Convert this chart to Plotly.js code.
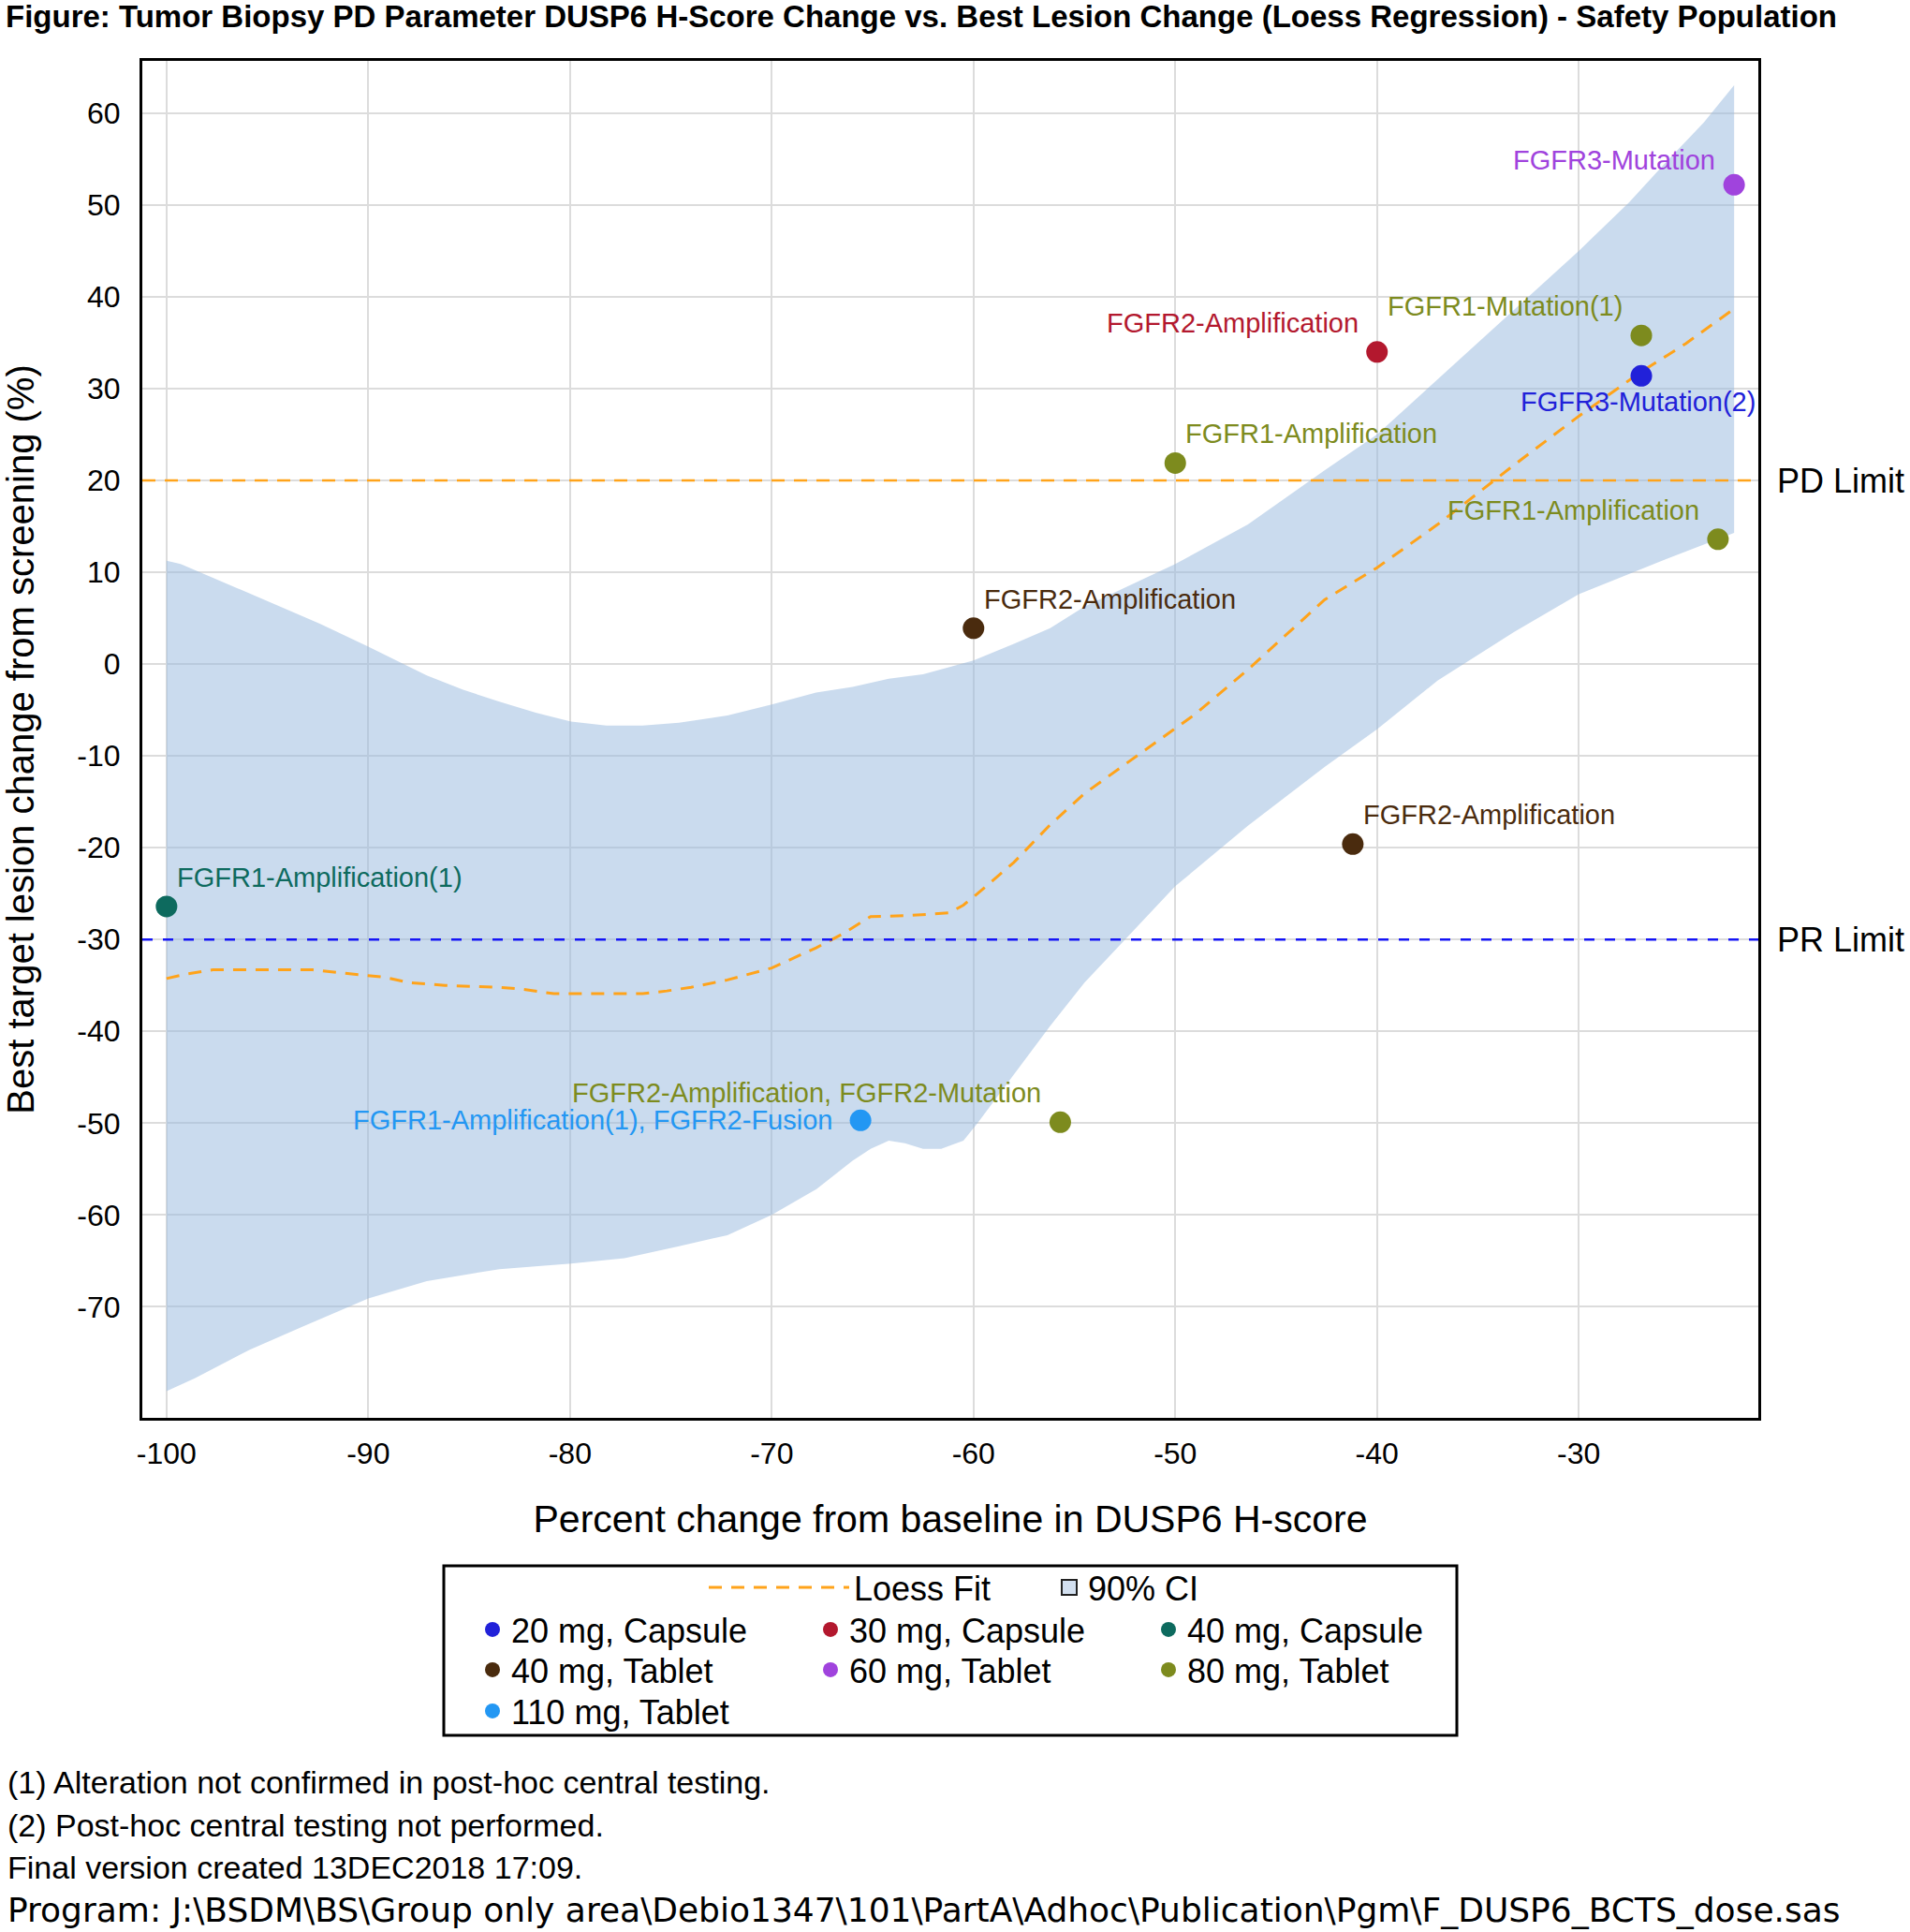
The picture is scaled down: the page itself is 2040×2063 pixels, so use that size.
<!DOCTYPE html>
<html>
<head>
<meta charset="utf-8">
<script src="https://cdn.plot.ly/plotly-3.0.1.min.js"></script>
<style>
  html, body { margin: 0; padding: 0; background: #fff; }
  #chart { width: 2040px; height: 2063px; }
</style>
</head>
<body>
<div id="chart"></div>
<script>
// axis ticks
var xTicks = [-100, -90, -80, -70, -60, -50, -40, -30];
var xTickText = ['-100', '-90', '-80', '-70', '-60', '-50', '-40', '-30'];
var yTicks = [-70, -60, -50, -40, -30, -20, -10, 0, 10, 20, 30, 40, 50, 60];
var yTickText = ['-70', '-60', '-50', '-40', '-30', '-20', '-10', '0', '10', '20', '30', '40', '50', '60'];

// reference limits
var PD_LIMIT = 20;
var PR_LIMIT = -30;

// dose groups (legend order)
var doseGroups = ['20 mg, Capsule', '30 mg, Capsule', '40 mg, Capsule',
                  '40 mg, Tablet', '60 mg, Tablet', '80 mg, Tablet', '110 mg, Tablet'];

// patients
var ptX = [-22.3, -26.9, -26.9, -40, -50, -23.1, -60, -41.2, -100, -65.6, -55.7];
var ptY = [52.2, 35.8, 31.4, 34.0, 21.9, 13.6, 3.9, -19.6, -26.4, -49.7, -49.9];
var ptDose = ['60 mg, Tablet', '80 mg, Tablet', '20 mg, Capsule', '30 mg, Capsule', '80 mg, Tablet',
              '80 mg, Tablet', '40 mg, Tablet', '40 mg, Tablet', '40 mg, Capsule', '110 mg, Tablet', '80 mg, Tablet'];
var ptLabel = ['FGFR3-Mutation', 'FGFR1-Mutation(1)', 'FGFR3-Mutation(2)', 'FGFR2-Amplification',
               'FGFR1-Amplification', 'FGFR1-Amplification', 'FGFR2-Amplification', 'FGFR2-Amplification',
               'FGFR1-Amplification(1)', 'FGFR1-Amplification(1), FGFR2-Fusion',
               'FGFR2-Amplification, FGFR2-Mutation'];

// loess fit
var loessX = [-100, -99, -97.7, -95.9, -94.2, -92.75, -91.5, -89.2, -87.95, -86.2, -83.5, -82.4, -80.8,
              -79.1, -76.4, -75.2, -74, -72.2, -70, -67.8, -66.5, -65.1, -63.3, -61.2, -60.5, -59.8, -58,
              -56.2, -54.5, -52.7, -50.9, -49.1, -47.9, -46.4, -42.6, -40, -37, -33.2, -30, -27, -24.7, -22.3];
var loessY = [-34.25, -33.75, -33.3, -33.3, -33.3, -33.3, -33.6, -34.1, -34.7, -35.0, -35.2, -35.4, -35.9,
              -35.9, -35.9, -35.6, -35.2, -34.4, -33.1, -30.9, -29.4, -27.5, -27.4, -27.1, -26.25, -25.0, -21.6,
              -17.5, -14.1, -11.25, -8.4, -5.6, -3.4, -0.6, 7.0, 10.5, 15.2, 21.7, 27.0, 31.7, 34.9, 38.7];

// 90% CI band
var ciUpX = [-100, -99.3, -97.7, -95.4, -92.4, -90, -88.5, -87.1, -85.3, -83.5, -81.7, -79.95, -78.2, -76.4,
             -74.6, -72.2, -70, -67.8, -66, -64.2, -62.5, -60, -58, -56.2, -54.5, -52.7, -50, -46.4, -42.6,
             -40, -37, -33.2, -30, -27.5, -25.7, -23.8, -22.3];
var ciUpY = [11.25, 10.9, 9.4, 7.2, 4.4, 1.9, 0.3, -1.25, -2.8, -4.1, -5.3, -6.25, -6.7, -6.7,
             -6.4, -5.6, -4.4, -3.1, -2.5, -1.6, -1.1, 0.4, 2.2, 3.9, 6.25, 8.1, 10.9, 15.2, 21.1,
             25.0, 31.0, 38.5, 45.0, 50.3, 54.6, 59.0, 63.05];
var ciLoX = [-100, -98.6, -95.9, -93.3, -90, -87.1, -83.5, -79.95, -77.3, -74.6, -72.2, -70, -67.8, -66,
             -65.1, -64.2, -63.4, -62.5, -61.6, -60.5, -59.8, -58, -56.2, -54.5, -52.5, -50, -46.4, -42.6,
             -40, -37, -33.2, -30, -25.7, -22.3];
var ciLoY = [-79.2, -77.8, -74.7, -72.2, -69.1, -67.2, -65.9, -65.3, -64.7, -63.4, -62.2, -60, -57.2, -54.1,
             -52.8, -51.9, -52.2, -52.8, -52.8, -51.9, -50, -44.7, -39.4, -34.7, -30, -24.2, -17.6, -11.2,
             -7.1, -1.8, 3.5, 7.6, 11.4, 14.3];

var footnotes = ['(1) Alteration not confirmed in post-hoc central testing.',
                 '(2) Post-hoc central testing not performed.',
                 'Final version created 13DEC2018 17:09.',
                 'Program: J:\\BSDM\\BS\\Group only area\\Debio1347\\101\\PartA\\Adhoc\\Publication\\Pgm\\F_DUSP6_BCTS_dose.sas'];

// ---- styles / layout ----
var FONT = '"Liberation Sans", Arial, Helvetica, sans-serif';
var WIDE_FONT = '"DejaVu Sans", "Liberation Sans", sans-serif';
var doseColors = {
    '20 mg, Capsule': '#2121D9',
    '30 mg, Capsule': '#B3182E',
    '40 mg, Capsule': '#0D6A5E',
    '40 mg, Tablet': '#4A2B0E',
    '60 mg, Tablet': '#A043DD',
    '80 mg, Tablet': '#7D8B1E',
    '110 mg, Tablet': '#2397F3'
};
var legendOf = {
    '20 mg, Capsule': 'legend2', '30 mg, Capsule': 'legend2', '40 mg, Capsule': 'legend2',
    '40 mg, Tablet': 'legend3', '60 mg, Tablet': 'legend3', '80 mg, Tablet': 'legend3',
    '110 mg, Tablet': 'legend4'
};
// where the label sits relative to its point
var labelPlace = ['aboveLeftLow', 'aboveLeft', 'below', 'aboveLeft', 'aboveRight', 'aboveLeft',
                  'aboveRight', 'aboveRight', 'aboveRight', 'left', 'aboveLeft'];
var placeCfg = {
    aboveLeftLow: {xanchor: 'right', xshift: -18, yshift: 26},
    aboveLeft:  {xanchor: 'right',  xshift: -18, yshift: 31},
    aboveRight: {xanchor: 'left',   xshift: 9,   yshift: 31},
    below:      {xanchor: 'center', xshift: -4,  yshift: -28},
    left:       {xanchor: 'right',  xshift: -28, yshift: 0}
};

var W = 2040, H = 2063;
var PL = 152, PR = 1878, PT = 65, PB = 1514;
function px2paperX(px) { return (px - PL) / (PR - PL); }
function py2paperY(py) { return (PB - py) / (PB - PT); }
function cx(px) { return px / W; }
function cy(py) { return 1 - py / H; }

var bandColor = 'rgba(150,183,222,0.5)';

var traces = [];

// band as closed polygon
traces.push({
    type: 'scatter', mode: 'lines',
    x: ciUpX.concat(ciLoX.slice().reverse()),
    y: ciUpY.concat(ciLoY.slice().reverse()),
    fill: 'toself', fillcolor: bandColor,
    line: {width: 0},
    showlegend: false, hoverinfo: 'skip'
});

traces.push({
    type: 'scatter', mode: 'lines',
    x: loessX, y: loessY,
    name: 'Loess Fit',
    line: {color: '#FFA31A', width: 3, dash: '14px,10px'},
    legend: 'legend', hoverinfo: 'skip'
});

traces.push({
    type: 'scatter', mode: 'markers',
    x: [null], y: [null],
    name: '90% CI',
    marker: {symbol: 'square', size: 16, color: '#D3E0F0', line: {color: '#222', width: 2}},
    legend: 'legend5'
});

doseGroups.forEach(function(g) {
    var xs = [], ys = [];
    for (var i = 0; i < ptX.length; i++) {
        if (ptDose[i] === g) { xs.push(ptX[i]); ys.push(ptY[i]); }
    }
    traces.push({
        type: 'scatter', mode: 'markers',
        x: xs, y: ys, name: g,
        marker: {size: 23, color: doseColors[g]},
        legend: legendOf[g]
    });
});

var annotations = [];
for (var i = 0; i < ptX.length; i++) {
    var c = placeCfg[labelPlace[i]];
    annotations.push({
        x: ptX[i], y: ptY[i], xref: 'x', yref: 'y',
        text: ptLabel[i], showarrow: false,
        xanchor: c.xanchor, yanchor: 'middle',
        xshift: c.xshift, yshift: c.yshift,
        font: {family: FONT, size: 29, color: doseColors[ptDose[i]]}
    });
}
[['PD Limit', PD_LIMIT], ['PR Limit', PR_LIMIT]].forEach(function(r) {
    annotations.push({
        x: 1, xref: 'paper', y: r[1], yref: 'y',
        text: r[0], showarrow: false, xanchor: 'left', yanchor: 'middle', xshift: 18,
        font: {family: FONT, size: 36, color: '#000'}
    });
});
var footY = [1903, 1949, 1994, 2039];
footnotes.forEach(function(t, k) {
    var last = (k === footnotes.length - 1);
    annotations.push({
        x: px2paperX(6), xref: 'paper', y: py2paperY(footY[k]), yref: 'paper',
        text: t, showarrow: false, xanchor: 'left', yanchor: 'middle',
        font: {family: last ? WIDE_FONT : FONT, size: last ? 36 : 34, color: '#000'}
    });
});

var shapes = [
    {type: 'line', xref: 'paper', x0: 0, x1: 1, yref: 'y', y0: PD_LIMIT, y1: PD_LIMIT,
     line: {color: '#FFA31A', width: 2.5, dash: '14px,10px'}},
    {type: 'line', xref: 'paper', x0: 0, x1: 1, yref: 'y', y0: PR_LIMIT, y1: PR_LIMIT,
     line: {color: '#1515F5', width: 2.5, dash: '11px,11px'}},
    // legend frame
    {type: 'rect', xref: 'paper', yref: 'paper',
     x0: px2paperX(474), x1: px2paperX(1556), y0: py2paperY(1853), y1: py2paperY(1672),
     line: {color: '#000', width: 3}}
];

function legendBox(xpx, ypx, step, itemw) {
    return {
        orientation: 'h', xref: 'container', yref: 'container',
        x: cx(xpx), y: cy(ypx), xanchor: 'left', yanchor: 'middle',
        bgcolor: 'rgba(0,0,0,0)', borderwidth: 0,
        font: {family: FONT, size: 36, color: '#000'},
        entrywidth: step - 45, entrywidthmode: 'pixels',
        itemwidth: itemw || 30,
        traceorder: 'normal'
    };
}

var layout = {
    width: W, height: H,
    paper_bgcolor: '#fff', plot_bgcolor: '#fff',
    margin: {l: PL, r: W - PR, t: PT, b: H - PB, pad: 0},
    font: {family: FONT, color: '#000'},
    hovermode: false,
    title: {
        text: 'Figure: Tumor Biopsy PD Parameter DUSP6 H-Score Change vs. Best Lesion Change (Loess Regression) - Safety Population',
        font: {family: FONT, size: 33, weight: 'bold', color: '#000'},
        xref: 'container', x: cx(6), xanchor: 'left',
        yref: 'container', y: cy(17), yanchor: 'middle'
    },
    xaxis: {
        range: [-101.2, -21.1], tickmode: 'array', tickvals: xTicks, ticktext: xTickText,
        showgrid: true, gridcolor: '#dcdcdc', gridwidth: 2, zeroline: false,
        showline: true, mirror: true, linecolor: '#000', linewidth: 3,
        ticks: '', tickfont: {family: FONT, size: 32, color: '#000'},
        ticklabelstandoff: 8, automargin: false,
        title: {text: 'Percent change from baseline in DUSP6 H-score', standoff: 38,
                font: {family: FONT, size: 41, color: '#000'}}
    },
    yaxis: {
        range: [-82.1, 65.7], tickmode: 'array', tickvals: yTicks, ticktext: yTickText,
        showgrid: true, gridcolor: '#dcdcdc', gridwidth: 2, zeroline: false,
        showline: true, mirror: true, linecolor: '#000', linewidth: 3,
        ticks: '', tickfont: {family: FONT, size: 32, color: '#000'},
        ticklabelstandoff: 14, automargin: false,
        title: {text: 'Best target lesion change from screening (%)', standoff: 58,
                font: {family: FONT, size: 40, color: '#000'}}
    },
    legend: legendBox(752, 1695, 300, 150),
    legend5: legendBox(1122, 1695, 250, 30),
    legend2: legendBox(506, 1740, 361),
    legend3: legendBox(506, 1783, 361),
    legend4: legendBox(506, 1827, 361),
    annotations: annotations,
    shapes: shapes
};

Plotly.newPlot('chart', traces, layout, {displayModeBar: false, staticPlot: true});
</script>
</body>
</html>
